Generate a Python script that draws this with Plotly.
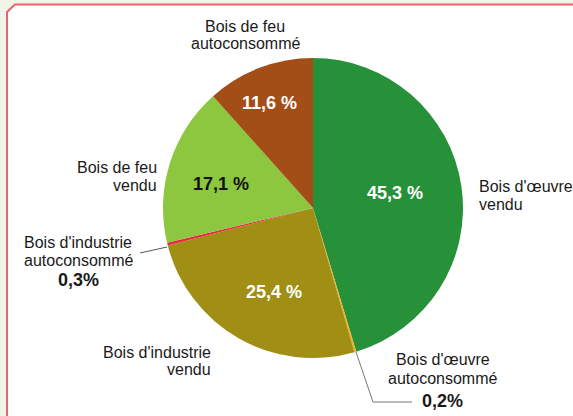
import plotly.graph_objects as go

# ---- data ----
categories = ["Bois d'œuvre vendu", "Bois d'œuvre autoconsommé", "Bois d'industrie vendu",
              "Bois d'industrie autoconsommé", "Bois de feu vendu", "Bois de feu autoconsommé"]
values = [45.3, 0.2, 25.4, 0.3, 17.1, 11.6]
value_labels = ["45,3 %", "0,2%", "25,4 %", "0,3%", "17,1 %", "11,6 %"]
colors = ["#27913a", "#f5b021", "#a08f14", "#e8283c", "#8dc63f", "#a34e17"]

W, H = 573, 416
def px(x): return x / W
def py(y): return 1 - y / H

fig = go.Figure()
fig.add_trace(go.Pie(
    labels=categories, values=values, sort=False, direction="clockwise", rotation=0,
    marker=dict(colors=colors, line=dict(width=0)),
    textinfo="none", hoverinfo="label+percent", showlegend=False,
    domain=dict(x=[px(163), px(463)], y=[py(358), py(58)]),
))

font = "Liberation Sans, Arial, Helvetica, sans-serif"
anns = []
def ann(x, y, text, size=16, color="#1a1a1a", xanchor="center", bold=False):
    if bold:
        text = "<b>" + text + "</b>"
    anns.append(dict(x=px(x), y=py(y), xref="paper", yref="paper", text=text, showarrow=False,
                     font=dict(family=font, size=size, color=color),
                     xanchor=xanchor, yanchor="middle"))

# outer labels (one annotation per line)
ann(245, 27, "Bois de feu"); ann(245, 44, "autoconsommé")
ann(477, 186, "Bois d'œuvre", xanchor="left"); ann(477, 204, "vendu", xanchor="left")
ann(159, 167, "Bois de feu", xanchor="right"); ann(159, 185, "vendu", xanchor="right")
ann(213, 352, "Bois d'industrie", xanchor="right"); ann(213, 369, "vendu", xanchor="right")
ann(78, 242, "Bois d'industrie"); ann(78, 260, "autoconsommé")
ann(78, 280, value_labels[3], size=18, bold=True)
ann(443, 359, "Bois d'œuvre"); ann(443, 378, "autoconsommé")
ann(443, 401, value_labels[1], size=18, bold=True)

# inside labels
ann(395, 193, value_labels[0], size=18, color="white", bold=True)
ann(274, 292, value_labels[2], size=18, color="white", bold=True)
ann(269, 103, value_labels[5], size=18, color="white", bold=True)
ann(221, 184, value_labels[4], size=18, color="#111", bold=True)

shapes = [
    # frame with chamfered corner
    dict(type="path", xref="paper", yref="paper",
         path=f"M {px(7)},{py(430)} L {px(7)},{py(12)} L {px(15)},{py(4.5)} L {px(580)},{py(4.5)} L {px(580)},{py(430)} Z",
         fillcolor="white", line=dict(color="#e9646f", width=2), layer="below"),
    # leader lines
    dict(type="line", xref="paper", yref="paper", x0=px(167), y0=py(247), x1=px(140), y1=py(253),
         line=dict(color="#555", width=1)),
    dict(type="path", xref="paper", yref="paper",
         path=f"M {px(356)},{py(352)} L {px(373)},{py(402)} L {px(412)},{py(402)}",
         line=dict(color="#777", width=1)),
]

fig.update_layout(
    width=W, height=H, margin=dict(l=0, r=0, t=0, b=0),
    paper_bgcolor="#f1f5e8", plot_bgcolor="white",
    annotations=anns, shapes=shapes,
)
fig.write_html("out.html", config={"displayModeBar": False},
               post_script="document.body.style.margin='0';")
